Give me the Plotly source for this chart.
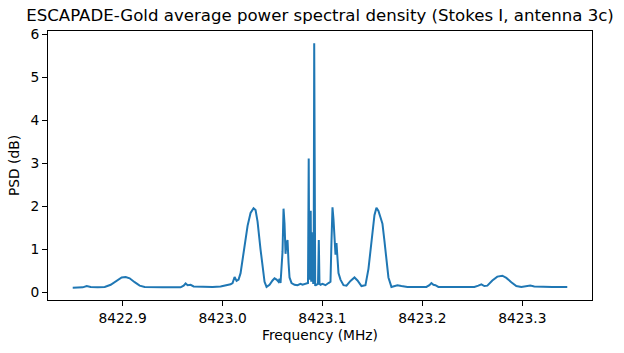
import plotly.graph_objects as go

# Frequency (MHz) and PSD (dB)
freq_mhz = [
    8422.850, 8422.855, 8422.860, 8422.864, 8422.868, 8422.875, 8422.882, 8422.888,
    8422.894, 8422.899, 8422.903, 8422.907, 8422.912, 8422.917, 8422.922, 8422.930,
    8422.940, 8422.950, 8422.958, 8422.961, 8422.963, 8422.965, 8422.968, 8422.971,
    8422.980, 8422.990, 8422.998, 8423.004, 8423.008, 8423.010, 8423.012, 8423.014,
    8423.016, 8423.018, 8423.020, 8423.022, 8423.025, 8423.028, 8423.031, 8423.033,
    8423.035, 8423.038, 8423.040, 8423.042, 8423.044, 8423.047, 8423.050, 8423.052,
    8423.054, 8423.056, 8423.057, 8423.058, 8423.060, 8423.061, 8423.062, 8423.063,
    8423.064, 8423.065, 8423.066, 8423.067, 8423.069, 8423.072, 8423.075, 8423.078,
    8423.080, 8423.083, 8423.0855, 8423.0862, 8423.0868, 8423.0876, 8423.0882, 8423.0887,
    8423.0892, 8423.0897, 8423.0902, 8423.0907, 8423.0912, 8423.0917, 8423.0922, 8423.0927,
    8423.093, 8423.094, 8423.0955, 8423.0963, 8423.0970, 8423.098, 8423.100, 8423.103,
    8423.106, 8423.108, 8423.109, 8423.110, 8423.111, 8423.112, 8423.113, 8423.114,
    8423.115, 8423.116, 8423.118, 8423.121, 8423.124, 8423.128, 8423.132, 8423.135,
    8423.139, 8423.143, 8423.146, 8423.149, 8423.152, 8423.154, 8423.156, 8423.158,
    8423.160, 8423.162, 8423.164, 8423.166, 8423.169, 8423.172, 8423.175, 8423.179,
    8423.185, 8423.195, 8423.204, 8423.207, 8423.209, 8423.211, 8423.213, 8423.216,
    8423.225, 8423.240, 8423.252, 8423.256, 8423.259, 8423.262, 8423.265, 8423.270,
    8423.275, 8423.280, 8423.284, 8423.289, 8423.294, 8423.299, 8423.305, 8423.308,
    8423.312, 8423.320, 8423.330, 8423.345,
]
psd_db = [
    0.11, 0.11, 0.12, 0.15, 0.13, 0.12, 0.13, 0.18,
    0.28, 0.35, 0.36, 0.33, 0.24, 0.16, 0.13, 0.12,
    0.12, 0.12, 0.12, 0.16, 0.21, 0.17, 0.18, 0.14,
    0.13, 0.13, 0.14, 0.17, 0.19, 0.22, 0.36, 0.27,
    0.30, 0.45, 0.75, 1.14, 1.55, 1.85, 1.96, 1.92,
    1.65, 1.00, 0.55, 0.25, 0.13, 0.18, 0.28, 0.33,
    0.30, 0.25, 0.32, 0.22, 0.95, 1.95, 1.60, 0.90,
    1.15, 1.22, 0.70, 0.35, 0.22, 0.18, 0.17, 0.20,
    0.18, 0.20, 0.22, 3.12, 0.30, 0.80, 1.90, 0.25,
    1.40, 0.30, 1.20, 0.20, 0.80, 5.80, 0.40, 0.15,
    0.20, 0.18, 0.20, 1.22, 0.20, 0.18, 0.20, 0.17,
    0.22, 0.25, 1.20, 1.98, 1.70, 1.05, 0.88, 1.15,
    0.85, 0.45, 0.30, 0.17, 0.16, 0.27, 0.35, 0.28,
    0.15, 0.17, 0.55, 1.25, 1.80, 1.97, 1.90, 1.75,
    1.60, 1.20, 0.75, 0.35, 0.13, 0.15, 0.17, 0.15,
    0.13, 0.13, 0.13, 0.17, 0.22, 0.18, 0.17, 0.13,
    0.13, 0.13, 0.13, 0.16, 0.19, 0.15, 0.16, 0.28,
    0.37, 0.39, 0.34, 0.24, 0.15, 0.13, 0.14, 0.16,
    0.14, 0.13, 0.13, 0.13,
]

x_tick_vals = [8422.9, 8423.0, 8423.1, 8423.2, 8423.3]
x_tick_text = ["8422.9", "8423.0", "8423.1", "8423.2", "8423.3"]
y_tick_vals = [0, 1, 2, 3, 4, 5, 6]
y_tick_text = ["0", "1", "2", "3", "4", "5", "6"]

title_text = "ESCAPADE-Gold average power spectral density (Stokes I, antenna 3c)"
x_title = "Frequency (MHz)"
y_title = "PSD (dB)"

fig = go.Figure()
fig.add_trace(go.Scatter(
    x=freq_mhz, y=psd_db, mode="lines",
    line=dict(color="#1f77b4", width=2),
    showlegend=False, hoverinfo="skip",
))

xmin, xmax = min(freq_mhz), max(freq_mhz)
ymin, ymax = min(psd_db), max(psd_db)
xpad = (xmax - xmin) * 0.05
ypad = (ymax - ymin) * 0.05

font_family = "DejaVu Sans"
fig.update_layout(
    width=624, height=353,
    margin=dict(l=48, r=32, t=31, b=53),
    paper_bgcolor="white", plot_bgcolor="white",
    font=dict(family=font_family, size=13.5, color="black"),
    title=dict(text=title_text, x=0.5, xref="paper", xanchor="center",
               y=1 - 15 / 353, yref="container", yanchor="middle",
               font=dict(family=font_family, size=16.6, color="black")),
    xaxis=dict(
        range=[xmin - xpad, xmax + xpad],
        tickvals=x_tick_vals, ticktext=x_tick_text,
        showgrid=False, zeroline=False,
        showline=True, linecolor="black", linewidth=1, mirror=True,
        ticks="outside", ticklen=5, tickwidth=1, tickcolor="black",
        tickfont=dict(size=13.8),
        title=dict(text=x_title, font=dict(size=13.8), standoff=5),
    ),
    yaxis=dict(
        range=[ymin - ypad, ymax + ypad],
        tickvals=y_tick_vals, ticktext=y_tick_text,
        showgrid=False, zeroline=False,
        showline=True, linecolor="black", linewidth=1, mirror=True,
        ticks="outside", ticklen=5, tickwidth=1, tickcolor="black",
        tickfont=dict(size=13.8),
        title=dict(text=y_title, font=dict(size=13.8), standoff=7),
    ),
)

fig.write_html("out.html")
